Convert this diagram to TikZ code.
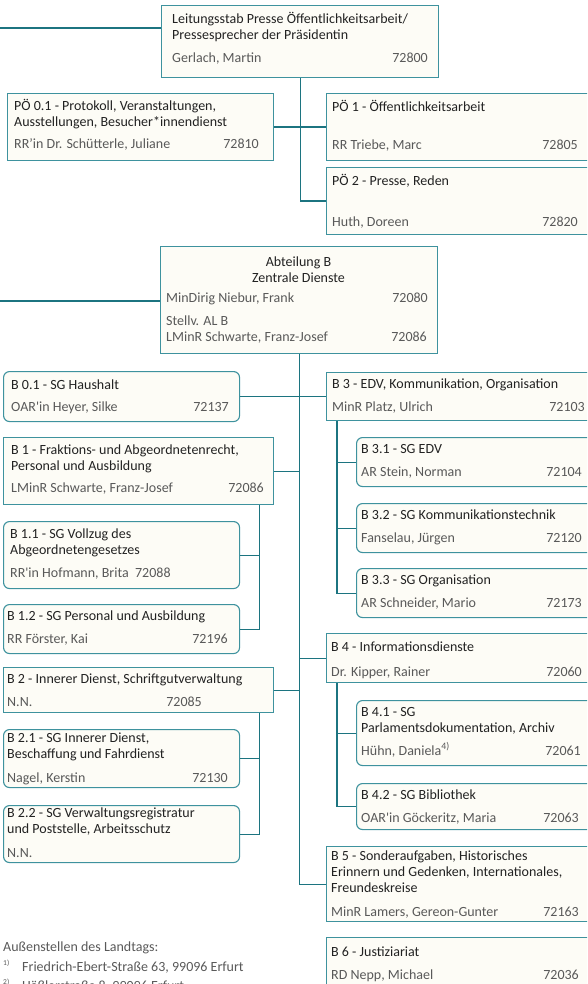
\documentclass[tikz,border=0pt]{standalone}
\usepackage{fontspec}
\setmainfont{Carlito}
\usepackage{tikz}
\definecolor{tealline}{RGB}{28,116,128}
\definecolor{tealbox}{RGB}{62,146,158}
\definecolor{cream}{RGB}{253,252,246}
\definecolor{titletext}{RGB}{34,34,34}
\definecolor{persontext}{RGB}{89,89,89}

\begin{document}
\begin{tikzpicture}[x=1pt, y=-1pt,
    unit/.style={draw=tealbox, fill=cream, line width=1.1pt, anchor=north west, inner sep=0pt},
    sg/.style={unit, rounded corners=6pt},
    conn/.style={draw=tealline, line width=1.1pt},
    title/.style={anchor=base west, inner sep=0pt, align=left, text=titletext, font=\fontsize{14}{16}\selectfont},
    person/.style={anchor=base west, inner sep=0pt, align=left, text=persontext, font=\fontsize{14}{16}\selectfont},
    phone/.style={person, anchor=base east}]
    \useasboundingbox (0,0) rectangle (587,984);
    \clip (0,0) rectangle (587,984);

    % Leitungsstab (bei mehrzeiligen Texten liegt base auf der letzten Zeile)
    \node[unit, minimum width=277pt, minimum height=72pt] (ls) at (161,5) {};
    \node[title] (lst) at (172,40) {Leitungsstab Presse Öffentlichkeitsarbeit/\\Pressesprecher der Präsidentin};
    \node[person] (lsp) at (172,63) {Gerlach, Martin};
    \node[phone] (lsn) at (428,63) {72800};

    \node[unit, minimum width=266pt, minimum height=67pt] (po01) at (7,93) {};
    \node[title] (po01t) at (14,127) {PÖ 0.1 - Protokoll, Veranstaltungen,\\Ausstellungen, Besucher*innendienst};
    \node[person] (po01p) at (14,149) {RR’in Dr. Schütterle, Juliane};
    \node[phone] (po01n) at (259,149) {72810};

    \node[unit, minimum width=275pt, minimum height=67pt] (po1) at (326,93) {};
    \node[title] (po1t) at (332,112) {PÖ 1 - Öffentlichkeitsarbeit};
    \node[person] (po1p) at (332,150) {RR Triebe, Marc};
    \node[phone] (po1n) at (578,150) {72805};

    \node[unit, minimum width=275pt, minimum height=67pt] (po2) at (326,167) {};
    \node[title] (po2t) at (332,186) {PÖ 2 - Presse, Reden};
    \node[person] (po2p) at (332,226) {Huth, Doreen};
    \node[phone] (po2n) at (578,226) {72820};

    % Abteilung B
    \node[unit, minimum width=277pt, minimum height=107pt] (ab) at (160,246) {};
    \node[title, anchor=base, align=center] (abt) at (298.5,282) {Abteilung B\\Zentrale Dienste};
    \node[person] (abp) at (166,302) {MinDirig Niebur, Frank};
    \node[phone] (abn) at (428,302) {72080};
    \node[person] (abs) at (166,341) {Stellv. AL B\\LMinR Schwarte, Franz-Josef};
    \node[phone] (absn) at (427,341) {72086};

    % linke Spalte
    \node[sg, minimum width=236pt, minimum height=50pt] (b01) at (3,371) {};
    \node[title] (b01t) at (11,389) {B 0.1 - SG Haushalt};
    \node[person] (b01p) at (11,411) {OAR\textquotesingle in Heyer, Silke};
    \node[phone] (b01n) at (229,411) {72137};

    \node[unit, minimum width=270pt, minimum height=67pt] (b1) at (3,437) {};
    \node[title] (b1t) at (11,470) {B 1 - Fraktions- und Abgeordnetenrecht,\\Personal und Ausbildung};
    \node[person] (b1p) at (11,492) {LMinR Schwarte, Franz-Josef};
    \node[phone] (b1n) at (264,492) {72086};

    \node[sg, minimum width=236pt, minimum height=67pt] (b11) at (3,521) {};
    \node[title] (b11t) at (10,554) {B 1.1 - SG Vollzug des\\Abgeordnetengesetzes};
    \node[person] (b11p) at (10,577) {RR\textquotesingle in Hofmann, Brita~~72088};

    \node[sg, minimum width=236pt, minimum height=49pt] (b12) at (3,604) {};
    \node[title] (b12t) at (7,620) {B 1.2 - SG Personal und Ausbildung};
    \node[person] (b12p) at (7,643) {RR Förster, Kai};
    \node[phone] (b12n) at (228,643) {72196};

    \node[unit, minimum width=270pt, minimum height=45pt] (b2) at (3,667) {};
    \node[title] (b2t) at (7,683) {B 2 - Innerer Dienst, Schriftgutverwaltung};
    \node[person] (b2p) at (7,706) {N.N.};
    \node[phone] (b2n) at (202,706) {72085};

    \node[sg, minimum width=236pt, minimum height=58pt] (b21) at (3,729) {};
    \node[title] (b21t) at (7,758) {B 2.1 - SG Innerer Dienst,\\Beschaffung und Fahrdienst};
    \node[person] (b21p) at (7,782) {Nagel, Kerstin};
    \node[phone] (b21n) at (228,782) {72130};

    \node[sg, minimum width=236pt, minimum height=57pt] (b22) at (3,805) {};
    \node[title] (b22t) at (7,833) {B 2.2 - SG Verwaltungsregistratur\\und Poststelle, Arbeitsschutz};
    \node[person] (b22p) at (7,857) {N.N.};

    % rechte Spalte
    \node[unit, minimum width=275pt, minimum height=48pt] (b3) at (326,372) {};
    \node[title] (b3t) at (332,388) {B 3 - EDV, Kommunikation, Organisation};
    \node[person] (b3p) at (332,411) {MinR Platz, Ulrich};
    \node[phone] (b3n) at (585,411) {72103};

    \node[sg, minimum width=240pt, minimum height=49pt] (b31) at (356,437) {};
    \node[title] (b31t) at (361,453) {B 3.1 - SG EDV};
    \node[person] (b31p) at (361,476) {AR Stein, Norman};
    \node[phone] (b31n) at (582,476) {72104};

    \node[sg, minimum width=240pt, minimum height=49pt] (b32) at (356,503) {};
    \node[title] (b32t) at (361,519) {B 3.2 - SG Kommunikationstechnik};
    \node[person] (b32p) at (361,542) {Fanselau, Jürgen};
    \node[phone] (b32n) at (582,542) {72120};

    \node[sg, minimum width=240pt, minimum height=49pt] (b33) at (356,568) {};
    \node[title] (b33t) at (361,584) {B 3.3 - SG Organisation};
    \node[person] (b33p) at (361,607) {AR Schneider, Mario};
    \node[phone] (b33n) at (582,607) {72173};

    \node[unit, minimum width=275pt, minimum height=49pt] (b4) at (326,633) {};
    \node[title] (b4t) at (331,651) {B 4 - Informationsdienste};
    \node[person] (b4p) at (331,676) {Dr. Kipper, Rainer};
    \node[phone] (b4n) at (582,676) {72060};

    \node[sg, minimum width=240pt, minimum height=65pt] (b41) at (356,700) {};
    \node[title] (b41t) at (361,732) {B 4.1 - SG\\Parlamentsdokumentation, Archiv};
    \node[person] (b41p) at (361,755) {Hühn, Daniela\textsuperscript{4)}};
    \node[phone] (b41n) at (581,755) {72061};

    \node[sg, minimum width=240pt, minimum height=46pt] (b42) at (356,783) {};
    \node[title] (b42t) at (361,799) {B 4.2 - SG Bibliothek};
    \node[person] (b42p) at (361,822) {OAR\textquotesingle in Göckeritz, Maria};
    \node[phone] (b42n) at (579,822) {72063};

    \node[unit, minimum width=275pt, minimum height=75pt] (b5) at (326,846) {};
    \node[title] (b5t) at (331,892) {B 5 - Sonderaufgaben, Historisches\\Erinnern und Gedenken, Internationales,\\Freundeskreise};
    \node[person] (b5p) at (331,916) {MinR Lamers, Gereon-Gunter};
    \node[phone] (b5n) at (579,916) {72163};

    \node[unit, minimum width=275pt, minimum height=55pt] (b6) at (326,937) {};
    \node[title] (b6t) at (331,956) {B 6 - Justiziariat};
    \node[person] (b6p) at (331,979) {RD Nepp, Michael};
    \node[phone] (b6n) at (579,979) {72036};

    % Fussnoten
    \node[person] (fn) at (3,951) {Außenstellen des Landtags:};
    \node[person, font=\fontsize{7.5}{8}\selectfont] (fn1m) at (3,965) {1)};
    \node[person] (fn1) at (22,971) {Friedrich-Ebert-Straße 63, 99096 Erfurt};
    \node[person, font=\fontsize{7.5}{8}\selectfont] (fn2m) at (3,984) {2)};
    \node[person] (fn2) at (22,990) {Häßlerstraße 8, 99096 Erfurt};

    % Verbindungen
    \coordinate (lsin) at (0,28);
    \coordinate (abin) at (0,301);
    \draw[conn] (lsin) -- (lsin -| ls.west);
    \draw[conn] (abin) -- (abin -| ab.west);
    \draw[conn] (ls.south) |- (po2.west);
    \draw[conn] (po01.east) -- (po1.west);
    \draw[conn] (ab.south) |- (b5.west);
    \draw[conn] (b01.east) -- (b3.west);
    \draw[conn] (b1.east) -- (b1.east -| ab.south);
    \draw[conn] (b2.east) -- (b2.east -| ab.south);
    \draw[conn] (b4.west) -- (b4.west -| ab.south);
    \coordinate (b1sub) at ([xshift=-15pt]b1.south east);
    \coordinate (b2sub) at ([xshift=-15pt]b2.south east);
    \coordinate (b3sub) at ([xshift=11pt]b3.south west);
    \coordinate (b4sub) at ([xshift=11pt]b4.south west);
    \draw[conn] (b1sub) |- (b12.east);
    \draw[conn] (b11.east) -- (b11.east -| b1sub);
    \draw[conn] (b2sub) |- (b22.east);
    \draw[conn] (b21.east) -- (b21.east -| b2sub);
    \draw[conn] (b3sub) |- (b33.west);
    \draw[conn] (b31.west) -- (b31.west -| b3sub);
    \draw[conn] (b32.west) -- (b32.west -| b3sub);
    \draw[conn] (b4sub) |- (b42.west);
    \draw[conn] (b41.west) -- (b41.west -| b4sub);
\end{tikzpicture}
\end{document}
